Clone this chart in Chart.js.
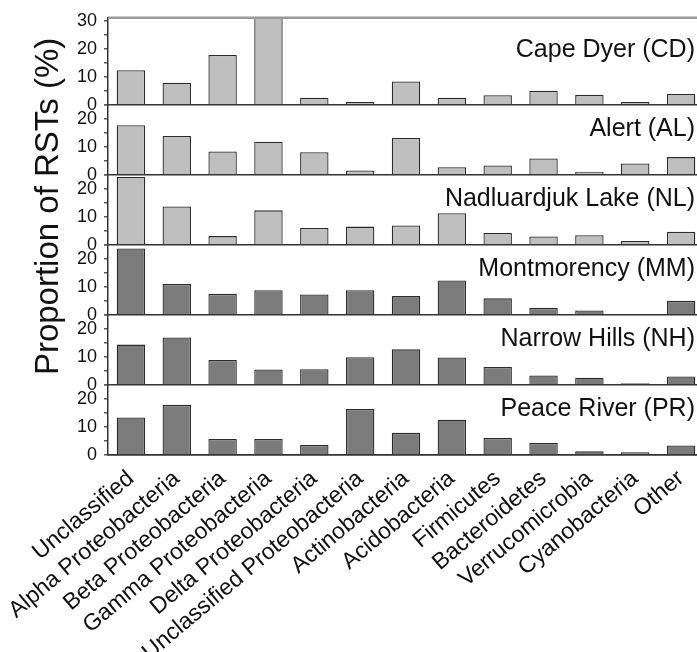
<!DOCTYPE html>
<html>
<head>
<meta charset="utf-8">
<script src="https://cdn.jsdelivr.net/npm/chart.js@4.4.1/dist/chart.umd.min.js"></script>
<style>
  html, body { margin: 0; padding: 0; background: #fff; }
  #wrap { width: 697px; height: 652px; overflow: hidden; }
</style>
</head>
<body>
<div id="wrap"><canvas id="chart" width="704" height="652"></canvas></div>
<script>
// Categories (x axis)
const categories = [
  'Unclassified', 'Alpha Proteobacteria', 'Beta Proteobacteria', 'Gamma Proteobacteria',
  'Delta Proteobacteria', 'Unclassified Proteobacteria', 'Actinobacteria', 'Acidobacteria',
  'Firmicutes', 'Bacteroidetes', 'Verrucomicrobia', 'Cyanobacteria', 'Other'
];

// Sites, top to bottom
const sites = ['Cape Dyer (CD)', 'Alert (AL)', 'Nadluardjuk Lake (NL)',
               'Montmorency (MM)', 'Narrow Hills (NH)', 'Peace River (PR)'];

// Proportion of RSTs (%) per site
const capeDyer     = [12.3, 7.8, 17.7, 31, 2.5, 1.0, 8.3, 2.5, 3.4, 5.0, 3.5, 1.0, 3.8];
const alert        = [17.7, 13.8, 8.3, 11.8, 8.0, 1.5, 13.1, 2.7, 3.3, 5.8, 1.1, 4.0, 6.3];
const nadluardjuk  = [24.2, 13.7, 3.1, 12.3, 6.0, 6.5, 6.9, 11.3, 4.2, 3.0, 3.4, 1.4, 4.7];
const montmorency  = [23.7, 11.0, 7.5, 8.8, 7.3, 8.8, 6.7, 12.3, 5.9, 2.5, 1.6, 0, 5.0];
const narrowHills  = [14.4, 16.9, 8.9, 5.5, 5.6, 9.9, 12.7, 9.8, 6.4, 3.4, 2.6, 0.6, 3.0];
const peaceRiver   = [13.4, 17.9, 5.7, 5.7, 3.6, 16.4, 7.9, 12.6, 6.1, 4.3, 1.3, 1.0, 3.4];

const siteValues = [capeDyer, alert, nadluardjuk, montmorency, narrowHills, peaceRiver];
const panelMax = [31, 25, 25, 25, 25, 25];
const tickLabels = [0, 10, 20, 30];

const FONT = '"Liberation Sans", Arial, Helvetica, sans-serif';
Chart.defaults.font.family = FONT;
Chart.defaults.color = '#111';

const LIGHT = '#bfbfbf';
const DARK = '#7b7b7b';

// scales: one shared x, six stacked y axes
const scales = {
  x: {
    type: 'category',
    grid: { display: false },
    border: { color: '#333', width: 1.5 },
    ticks: { minRotation: 40, maxRotation: 40, autoSkip: false, font: { size: 23 }, padding: 2 },
    afterFit: s => { s.height = 197; }
  }
};

siteValues.forEach((vals, i) => {
  scales['y' + i] = {
    type: 'linear',
    position: 'left',
    stack: 'panels',
    stackWeight: panelMax[i],
    weight: 10 - i,
    min: 0,
    max: panelMax[i],
    border: { color: '#333', width: 1.5 },
    grid: {
      color: ctx => ctx.tick.value === 0 ? '#333' : 'rgba(0,0,0,0)',
      lineWidth: 1.5,
      tickColor: '#555',
      tickLength: 4
    },
    ticks: {
      stepSize: 5,
      autoSkip: false,
      includeBounds: false,
      font: { size: 18 },
      padding: 7,
      callback: v => tickLabels.includes(v) ? v : ''
    },
    afterFit: s => { s.width = 108; }
  };
});

const datasets = siteValues.map((vals, i) => ({
  label: sites[i],
  data: vals,
  yAxisID: 'y' + i,
  grouped: false,
  backgroundColor: i < 3 ? LIGHT : DARK,
  borderColor: '#2b2b2b',
  borderWidth: 1.3,
  categoryPercentage: 1,
  barPercentage: 0.62
}));

// top frame line, site names inside panels, shared y title
const panelText = {
  id: 'panelText',
  afterDraw(chart) {
    const { ctx, chartArea } = chart;
    ctx.save();
    ctx.strokeStyle = '#999';
    ctx.lineWidth = 2.5;
    ctx.beginPath();
    ctx.moveTo(chartArea.left, chartArea.top);
    ctx.lineTo(chartArea.right, chartArea.top);
    ctx.stroke();

    ctx.fillStyle = '#111';
    ctx.font = '25px ' + FONT;
    ctx.textAlign = 'right';
    ctx.textBaseline = 'alphabetic';
    sites.forEach((name, i) => {
      const s = chart.scales['y' + i];
      ctx.fillText(name, 695, s.bottom - (i === 0 ? 48 : 39));
    });
    ctx.font = '33px ' + FONT;
    ctx.textAlign = 'center';
    ctx.textBaseline = 'middle';
    ctx.translate(49, (chartArea.top + chartArea.bottom) / 2 - 30);
    ctx.rotate(-Math.PI / 2);
    ctx.fillText('Proportion of RSTs (%)', 0, 0);
    ctx.restore();
  }
};

new Chart(document.getElementById('chart'), {
  type: 'bar',
  data: { labels: categories, datasets },
  options: {
    responsive: false,
    animation: false,
    layout: { padding: { top: 16, right: 0, left: 0, bottom: 0 } },
    plugins: { legend: { display: false }, tooltip: { enabled: false } },
    scales
  },
  plugins: [panelText]
});
</script>
</body>
</html>
